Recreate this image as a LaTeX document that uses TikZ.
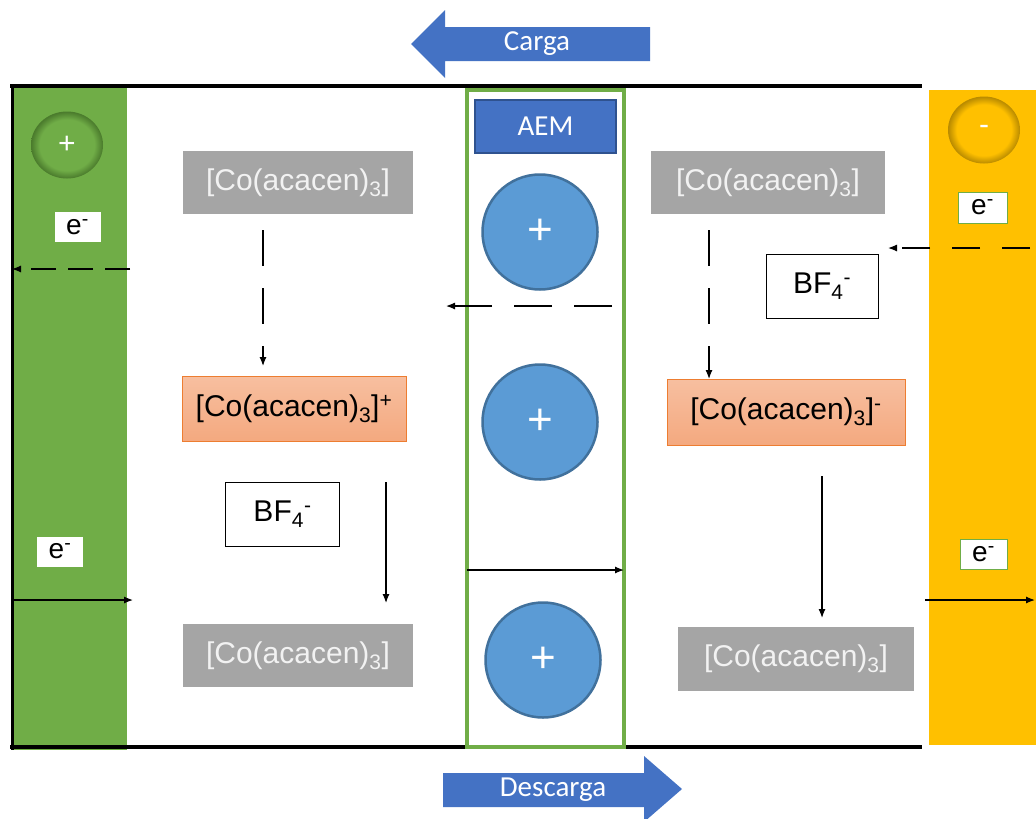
\documentclass[tikz,border=0pt]{standalone}
\usepackage{fontspec}
\setmainfont{Liberation Sans}
\newfontfamily\calib{Carlito}
\usetikzlibrary{arrows.meta}
\definecolor{egreen}{HTML}{70AD47}
\definecolor{egreendk}{HTML}{4A7A2C}
\definecolor{eyellow}{HTML}{FFC000}
\definecolor{eyellowdk}{HTML}{B88A00}
\definecolor{bblue}{HTML}{4472C4}
\definecolor{bbluedk}{HTML}{2F528F}
\definecolor{cblue}{HTML}{5B9BD5}
\definecolor{cbluedk}{HTML}{41719C}
\definecolor{ggray}{HTML}{A5A5A5}
\definecolor{gtext}{HTML}{F2F2F2}
\definecolor{oborder}{HTML}{ED7D31}
\definecolor{otop}{HTML}{F7BFA0}
\definecolor{obot}{HTML}{F4A97F}
\pgfdeclareradialshading{greenball}{\pgfpoint{0bp}{0bp}}{color(0bp)=(egreen); color(19bp)=(egreen); color(25bp)=(egreendk); color(50bp)=(egreendk)}
\pgfdeclareradialshading{yellowball}{\pgfpoint{0bp}{0bp}}{color(0bp)=(eyellow); color(19bp)=(eyellow); color(25bp)=(eyellowdk); color(50bp)=(eyellowdk)}
\tikzset{
  lbl/.style={font=\fontsize{30}{32}\selectfont},
  graybox/.style={lbl, fill=ggray, text=gtext, inner sep=0pt, minimum width=230pt, minimum height=63pt},
  orangebox/.style={lbl, top color=otop, bottom color=obot, draw=oborder, line width=1pt, inner sep=0pt, minimum height=65pt},
  bfbox/.style={lbl, draw=black, fill=white, line width=1pt, inner sep=0pt, minimum width=114pt, minimum height=64pt},
  ebox/.style={font=\fontsize{28}{30}\selectfont, fill=white, inner sep=0pt, minimum width=46pt, minimum height=30pt},
  ion/.style={circle, fill=cblue, draw=cbluedk, line width=2.5pt, minimum size=115pt, inner sep=0pt, text=white, font=\fontsize{44}{44}\selectfont},
  elec/.style={ellipse, minimum width=72pt, minimum height=67pt, inner sep=0pt, text=white, font=\fontsize{30}{30}\selectfont},
  conn/.style={line width=1.2pt, -{Latex[length=9pt,width=7pt]}},
  dconn/.style={conn, dash pattern=on 32pt off 22pt},
  blocklbl/.style={text=white, font=\calib\fontsize{29}{30}\selectfont}
}
\usetikzlibrary{shapes.geometric}
\begin{document}
\begin{tikzpicture}[x=1pt,y=-1pt]
\useasboundingbox (0,0) rectangle (1036,819);
\fill[white] (0,0) rectangle (1036,819);
% electrodes
\fill[egreen] (12,88) rectangle (127,750);
\fill[eyellow] (929,90) rectangle (1036,745);
% frame lines
\draw[line width=4pt] (10,86) -- (922,86);
\draw[line width=4pt] (10,747) -- (922,747);
\draw[line width=3pt] (12,86) -- (12,750);
% electrode circles
\node[elec, shading=greenball] (pos) at (67,145) {+};
\node[elec, shading=yellowball] (neg) at (984,130) {-};
% membrane
\draw[egreen, line width=4pt] (467,90) rectangle (624,747);
\node[fill=bblue, draw=bbluedk, line width=1.5pt, minimum width=141pt, minimum height=53pt, inner sep=0pt, blocklbl] (aem) at (545.5,126.5) {AEM};
\node[ion] (c1) at (540,232) {+};
\node[ion] (c2) at (540,422) {+};
\node[ion] (c3) at (543,660) {+};
% species left
\node[graybox] (lg1) at (298,182.5) {[Co(acacen)\textsubscript{3}]};
\node[orangebox, minimum width=224pt] (lo) at (294,408.5) {[Co(acacen)\textsubscript{3}]\textsuperscript{+}};
\node[bfbox] (lbf) at (282.5,514) {BF\textsubscript{4}\textsuperscript{-}};
\node[graybox] (lg2) at (298,655.5) {[Co(acacen)\textsubscript{3}]};
% species right
\node[graybox, minimum width=234pt] (rg1) at (768,182.5) {[Co(acacen)\textsubscript{3}]};
\node[bfbox, minimum width=112pt] (rbf) at (822,286) {BF\textsubscript{4}\textsuperscript{-}};
\node[orangebox, minimum width=238pt, minimum height=66pt] (ro) at (786,412) {[Co(acacen)\textsubscript{3}]\textsuperscript{-}};
\node[graybox, minimum width=236pt, minimum height=64pt] (rg2) at (796,659) {[Co(acacen)\textsubscript{3}]};
% electron labels
\node[ebox] (el1) at (77.5,227) {e\textsuperscript{-}};
\node[ebox] (el2) at (60,551.5) {e\textsuperscript{-}};
\node[ebox, draw=egreen, line width=1pt, minimum width=49pt, minimum height=31pt] (er1) at (982.5,207.5) {e\textsuperscript{-}};
\node[ebox, draw=egreen, line width=1pt, minimum width=47pt] (er2) at (983.5,554) {e\textsuperscript{-}};
% connector coordinates
\coordinate (a1s) at (263,230); \coordinate (a1e) at (263,366);
\coordinate (a2s) at (386,482); \coordinate (a2e) at (386,603);
\coordinate (a3s) at (709,230); \coordinate (a3e) at (709,379);
\coordinate (a4s) at (822,476); \coordinate (a4e) at (822,618);
\coordinate (h1s) at (130,269); \coordinate (h1e) at (12,269);
\coordinate (h2s) at (12,600);  \coordinate (h2e) at (133,600);
\coordinate (h3s) at (612,306); \coordinate (h3e) at (446,306);
\coordinate (h4s) at (467,570); \coordinate (h4e) at (624,570);
\coordinate (h5s) at (1030,248); \coordinate (h5e) at (888,248);
\coordinate (h6s) at (925,600); \coordinate (h6e) at (1035,600);
\draw[dconn, dash pattern=on 36pt off 22pt] (a1s) -- (a1e);
\draw[conn] (a2s) -- (a2e);
\draw[dconn, dash pattern=on 36pt off 22pt] (a3s) -- (a3e);
\draw[conn] (a4s) -- (a4e);
\draw[dconn, dash pattern=on 25pt off 12pt] (h1s) -- (h1e);
\draw[conn] (h2s) -- (h2e);
\draw[dconn, dash pattern=on 38pt off 22pt] (h3s) -- (h3e);
\draw[conn] (h4s) -- (h4e);
\draw[dconn, dash pattern=on 28pt off 22pt] (h5s) -- (h5e);
\draw[conn] (h6s) -- (h6e);
% block arrows
\fill[bblue] (411,44) -- (445,10) -- (445,27) -- (650,27) -- (650,61) -- (445,61) -- (445,78) -- cycle;
\node[blocklbl] (carga) at (537,44) {Carga};
\fill[bblue] (443,773) -- (644,773) -- (644,756) -- (682,789) -- (644,822) -- (644,807) -- (443,807) -- cycle;
\node[blocklbl] (descarga) at (553,790) {Descarga};
\end{tikzpicture}
\end{document}
